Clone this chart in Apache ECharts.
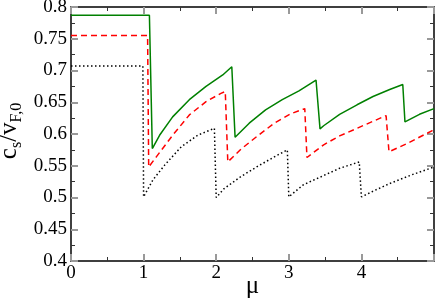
<!DOCTYPE html>
<html>
<head>
<meta charset="utf-8">
<script src="https://cdn.jsdelivr.net/npm/echarts@6/dist/echarts.min.js"></script>
<style>html,body{margin:0;padding:0;background:#fff}#c{width:436px;height:302px}</style>
</head>
<body>
<div id="c"></div>
<script>
// ---- data ----
const greenMu = [0, 1.08, 1.12, 1.22, 1.40, 1.63, 1.86, 2.09, 2.215, 2.26, 2.455, 2.68, 2.91, 3.14, 3.375, 3.43, 3.48, 3.70, 3.94, 4.16, 4.39, 4.57, 4.60, 4.80, 5.0];
const greenCs = [0.787, 0.787, 0.577, 0.598, 0.627, 0.654, 0.675, 0.693, 0.706, 0.595, 0.617, 0.638, 0.654, 0.668, 0.685, 0.608, 0.613, 0.631, 0.646, 0.659, 0.670, 0.678, 0.619, 0.631, 0.640];

const redMu = [0, 1.055, 1.07, 1.175, 1.40, 1.63, 1.86, 2.065, 2.125, 2.16, 2.34, 2.57, 2.80, 3.03, 3.22, 3.25, 3.48, 3.70, 3.94, 4.16, 4.34, 4.38, 4.63, 4.97, 5.0];
const redCs = [0.755, 0.755, 0.548, 0.564, 0.598, 0.630, 0.651, 0.664, 0.667, 0.556, 0.576, 0.597, 0.617, 0.632, 0.640, 0.563, 0.583, 0.597, 0.609, 0.620, 0.629, 0.572, 0.585, 0.605, 0.606];

const blackMu = [0, 0.99, 1.0, 1.13, 1.29, 1.52, 1.745, 1.975, 2.0, 2.11, 2.34, 2.57, 2.80, 2.98, 3.0, 3.20, 3.43, 3.70, 3.97, 4.0, 4.20, 4.39, 4.70, 5.0];
const blackCs = [0.707, 0.707, 0.501, 0.528, 0.551, 0.580, 0.598, 0.609, 0.500, 0.514, 0.533, 0.549, 0.564, 0.575, 0.501, 0.520, 0.532, 0.546, 0.556, 0.501, 0.512, 0.522, 0.536, 0.548];

const xTickLabels = ['0', '1', '2', '3', '4', ''];
const yTickLabels = ['0.4', '0.45', '0.5', '0.55', '0.6', '0.65', '0.7', '0.75', '0.8'];

const pairs = (xs, ys) => xs.map((x, i) => [x, ys[i]]);
const serif = 'Liberation Serif';

function xAx(pos, labels) {
  return {
    type: 'value', position: pos, min: 0, max: 5, interval: 1,
    axisLine: {show: true, onZero: false, lineStyle: {color: '#000', width: 1.5}},
    axisTick: {show: true, inside: true, length: 7, lineStyle: {color: '#999', width: 2}},
    minorTick: {show: true, splitNumber: 2, length: 4, lineStyle: {color: '#333', width: 1}},
    splitLine: {show: false}, minorSplitLine: {show: false},
    axisLabel: labels ? {show: true, margin: 3, fontFamily: serif, fontSize: 19, color: '#000',
      formatter: (v, i) => xTickLabels[i]} : {show: false},
    name: labels ? 'μ' : '', nameLocation: 'middle', nameGap: 13, nameMoveOverlap: false,
    nameTextStyle: {fontFamily: serif, fontSize: 25, color: '#000'}
  };
}
function yAx(pos, labels) {
  return {
    type: 'value', position: pos, min: 0.4, max: 0.8, interval: 0.05,
    axisLine: {show: true, onZero: false, lineStyle: {color: '#000', width: 1.5}},
    axisTick: {show: true, inside: true, length: 7, lineStyle: {color: '#999', width: 2}},
    minorTick: {show: true, splitNumber: 2, length: 4, lineStyle: {color: '#333', width: 1}},
    splitLine: {show: false}, minorSplitLine: {show: false},
    axisLabel: labels ? {show: true, margin: 4, fontFamily: serif, fontSize: 19, color: '#000',
      formatter: (v, i) => yTickLabels[i]} : {show: false},
    name: labels ? '{m|c}{s|s}{m|/v}{s|F,0}' : '', nameLocation: 'middle', nameGap: 46, nameRotate: 90,
    nameMoveOverlap: false,
    nameTextStyle: {
      fontFamily: serif, color: '#000', padding: [0, 0, 0, 6],
      rich: {
        m: {fontFamily: serif, fontSize: 25, color: '#000', lineHeight: 32, verticalAlign: 'middle'},
        s: {fontFamily: serif, fontSize: 16, color: '#000', lineHeight: 16, verticalAlign: 'bottom'}
      }
    }
  };
}

const chart = echarts.init(document.getElementById('c'), null, {renderer: 'canvas'});
chart.setOption({
  animation: false,
  backgroundColor: '#fff',
  grid: {left: 71, right: 2, top: 7, bottom: 41, containLabel: false, outerBoundsMode: 'none'},
  xAxis: [xAx('bottom', true), xAx('top', false)],
  yAxis: [yAx('left', true), yAx('right', false)],
  series: [
    {type: 'line', data: pairs(blackMu, blackCs), showSymbol: false, smooth: false,
     lineStyle: {color: '#000', width: 1.5, type: [1.5, 2.5]}, z: 2},
    {type: 'line', data: pairs(redMu, redCs), showSymbol: false, smooth: false,
     lineStyle: {color: '#ff0000', width: 1.5, type: [6, 4]}, z: 3},
    {type: 'line', data: pairs(greenMu, greenCs), showSymbol: false, smooth: false,
     lineStyle: {color: '#008000', width: 1.5}, z: 4}
  ]
});
</script>
</body>
</html>
